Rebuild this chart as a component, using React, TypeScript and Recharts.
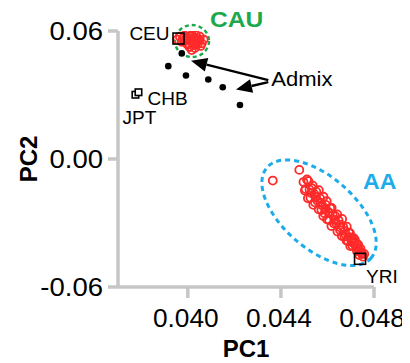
import React from 'react';
import { ScatterChart, Scatter, XAxis, YAxis, ReferenceDot, ReferenceLine } from 'recharts';

// PC1 / PC2 values
const cauPoints: [number, number][] = [
  [0.03966, 0.05732], [0.04017, 0.05812], [0.04052, 0.05732], [0.03995, 0.05421], [0.04031, 0.05341],
  [0.04017, 0.05106], [0.0406, 0.05421], [0.03974, 0.05496], [0.04038, 0.05576], [0.04002, 0.05656],
  [0.03985, 0.0578], [0.04005, 0.0585], [0.04028, 0.057], [0.04045, 0.0562], [0.0401, 0.0552],
  [0.0399, 0.056], [0.0404, 0.0548], [0.04025, 0.0545], [0.04, 0.0535], [0.0405, 0.0555],
  [0.04012, 0.0576], [0.03978, 0.0564], [0.04035, 0.058], [0.0402, 0.0562], [0.03998, 0.0572],
  [0.04043, 0.0538], [0.04008, 0.0525], [0.0403, 0.052], [0.04055, 0.053], [0.03985, 0.0553],
  [0.03955, 0.056], [0.04068, 0.056],
];

const aaPoints: [number, number][] = [
  [0.04365, -0.0101], [0.04479, -0.0051],
  [0.04497, -0.0108], [0.04503, -0.0148], [0.04512, -0.0096], [0.04506, -0.0141],
  [0.04518, -0.0104], [0.04523, -0.0144], [0.04516, -0.0184], [0.04533, -0.0137], [0.04527, -0.0182],
  [0.04537, -0.0125], [0.04544, -0.0165], [0.04539, -0.0215], [0.04552, -0.0153], [0.04546, -0.0203],
  [0.04563, -0.0146], [0.04557, -0.0196], [0.04562, -0.0236], [0.04568, -0.0184], [0.04574, -0.0239],
  [0.04583, -0.0177], [0.04577, -0.0217], [0.04582, -0.0267], [0.04593, -0.0215], [0.04588, -0.0255],
  [0.04597, -0.0198], [0.04604, -0.0248], [0.04598, -0.0283], [0.04612, -0.0231], [0.04607, -0.0286],
  [0.04618, -0.0229], [0.04623, -0.0264], [0.04617, -0.0314], [0.04633, -0.0267], [0.04628, -0.0302],
  [0.04642, -0.026], [0.04637, -0.03], [0.04643, -0.034], [0.04648, -0.0288], [0.04654, -0.0333],
  [0.04663, -0.0281], [0.04657, -0.0321], [0.04662, -0.0361], [0.04668, -0.0319], [0.04673, -0.0364],
  [0.04683, -0.0317], [0.04677, -0.0352], [0.04682, -0.0382], [0.04692, -0.0345], [0.04688, -0.0385],
  [0.04697, -0.0348], [0.04703, -0.0383], [0.04698, -0.0408], [0.04713, -0.0371], [0.04707, -0.0406],
  [0.04718, -0.0379], [0.04723, -0.0414], [0.04732, -0.0402], [0.04727, -0.0432], [0.04742, -0.042],
  [0.04737, -0.045], [0.04748, -0.0443], [0.04753, -0.0458], [0.04758, -0.0445], [0.04745, -0.0438],
  [0.04735, -0.0425], [0.04725, -0.04], [0.04715, -0.039], [0.04705, -0.037],
  [0.04728, -0.0415], [0.04738, -0.0433], [0.04712, -0.0395], [0.04694, -0.0366], [0.04675, -0.0338],
  [0.04655, -0.0308], [0.0463, -0.0285], [0.0461, -0.0255], [0.0459, -0.0236], [0.0457, -0.0205],
  [0.0455, -0.0178], [0.0453, -0.016],
];

const admixPoints: [number, number][] = [
  [0.03974, 0.04951], [0.03916, 0.04353], [0.03992, 0.03915],
  [0.04088, 0.03727], [0.0415, 0.03365], [0.04224, 0.02532],
];

// reference populations
const refNames = ['CEU', 'YRI', 'JPT', 'CHB'];
const refPC1 = [0.0396, 0.0474, 0.03775, 0.03788];
const refPC2 = [0.05647, -0.0468, 0.03012, 0.03129];

// cluster outlines (centres) and arrows
const cauCentre = { x: 0.04018, y: 0.05529 };
const aaCentre = { x: 0.04564, y: -0.02518 };
const arrowStart = [{ x: 0.043459, y: 0.036941 }, { x: 0.043459, y: 0.036 }];
const arrowTips = [{ x: 0.040137, y: 0.046023 }, { x: 0.04207, y: 0.032564 }];

const xTicks = [0.04, 0.044, 0.048];
const yTicks = [-0.06, 0, 0.06];

const toObj = (a: [number, number][]) => a.map(([x, y]) => ({ x, y }));
const refData = refNames.map((n, i) => ({ name: n, x: refPC1[i], y: refPC2[i] }));

const FONT = '"Liberation Sans", Arial, Helvetica, sans-serif';
const RED = '#ff2a2a';
const GREEN = '#1ba94c';
const BLUE = '#1cacea';

const XTick = (p: any) => (
  <g transform={`translate(${p.x - 2},${p.y})`}>
    <text transform="scale(1.05,1)" textAnchor="middle" dy="0.71em" fontSize={25} fontFamily={FONT} fill="#000">
      {Number(p.payload.value).toFixed(3)}
    </text>
  </g>
);
const YTick = (p: any) => (
  <g transform={`translate(${p.x},${p.y})`}>
    <text transform="scale(1.1,1)" textAnchor="end" dy="0.355em" fontSize={25} fontFamily={FONT} fill="#000">
      {Number(p.payload.value).toFixed(2)}
    </text>
  </g>
);

const RedCircle = (p: any) => (
  <circle cx={p.cx} cy={p.cy} r={4} fill="none" stroke={RED} strokeWidth={1.8} />
);
const Dot = (p: any) => <circle cx={p.cx} cy={p.cy} r={3.3} fill="#000" />;
const RefSquare = (p: any) => {
  const big = p.payload && (p.payload.name === 'CEU' || p.payload.name === 'YRI');
  const s = big ? 11 : 6.5;
  return (
    <rect x={p.cx - s / 2} y={p.cy - s / 2} width={s} height={s} fill={big ? 'none' : '#fff'} stroke="#000" strokeWidth={1.6} />
  );
};

const textShape = (txt: string, dx: number, dy: number, opts: any = {}) => (p: any) => (
  <g transform={`translate(${p.cx + dx},${p.cy + dy}) scale(${opts.sx || 1},1)`}>
    <text
      x={0}
      y={0}
      textAnchor={opts.anchor || 'start'}
      fontSize={opts.size || 19}
      fontWeight={opts.bold ? 700 : 400}
      fill={opts.color || '#000'}
      fontFamily={FONT}
    >
      {txt}
    </text>
  </g>
);

const ellipseShape = (rx: number, ry: number, rot: number, color: string, dash: string, w: number) => (p: any) => (
  <ellipse
    cx={p.cx}
    cy={p.cy}
    rx={rx}
    ry={ry}
    transform={`rotate(${rot} ${p.cx} ${p.cy})`}
    fill="none"
    stroke={color}
    strokeWidth={w}
    strokeDasharray={dash}
  />
);

const Arrow = (p: any) => {
  const { x1, y1, x2, y2 } = p;
  const ang = Math.atan2(y2 - y1, x2 - x1);
  const L = 16;
  const W = 7;
  const bx = x2 - L * Math.cos(ang);
  const by = y2 - L * Math.sin(ang);
  const nx = -Math.sin(ang) * W;
  const ny = Math.cos(ang) * W;
  return (
    <g>
      <line x1={x1} y1={y1} x2={bx} y2={by} stroke="#000" strokeWidth={2.4} />
      <polygon points={`${x2},${y2} ${bx + nx},${by + ny} ${bx - nx},${by - ny}`} fill="#000" />
    </g>
  );
};

const AXIS = '#c6c6c6';

export default function App() {
  return (
    <ScatterChart width={402} height={355} margin={{ top: 23, right: 36, bottom: 0, left: 0 }}>
      <XAxis
        type="number"
        dataKey="x"
        domain={[0.037, 0.048]}
        ticks={xTicks}
        allowDataOverflow
        height={76}
        stroke={AXIS}
        axisLine={{ stroke: AXIS, strokeWidth: 3.5 }}
        tickLine={{ stroke: AXIS, strokeWidth: 3.5 }}
        tickSize={11}
        tickMargin={11}
        tick={<XTick />}
        label={(lp: any) => {
          const vb = lp.viewBox || {};
          return (
            <text x={vb.x + vb.width / 2} y={vb.y + 70} textAnchor="middle" fontSize={24} fontWeight={700} fontFamily={FONT} fill="#000">
              PC1
            </text>
          );
        }}
      />
      <YAxis
        type="number"
        dataKey="y"
        domain={[-0.06, 0.06]}
        ticks={yTicks}
        allowDataOverflow
        width={110}
        stroke={AXIS}
        axisLine={{ stroke: AXIS, strokeWidth: 3.5 }}
        tickLine={{ stroke: AXIS, strokeWidth: 3.5 }}
        tickSize={10}
        tickMargin={5}
        tick={<YTick />}
        label={(lp: any) => {
          const vb = lp.viewBox || {};
          const cy = vb.y + vb.height / 2;
          return (
            <text transform={`translate(29,${cy}) rotate(-90)`} textAnchor="middle" fontSize={24} fontWeight={700} fontFamily={FONT} fill="#000">
              PC2
            </text>
          );
        }}
      />
      <ReferenceDot x={cauCentre.x} y={cauCentre.y} r={0} shape={ellipseShape(17, 16, 0, GREEN, '4 3', 2.4)} />
      <ReferenceDot x={aaCentre.x} y={aaCentre.y} r={0} shape={ellipseShape(69, 36, 41, BLUE, '5 4', 3)} />
      <Scatter data={toObj(cauPoints)} shape={<RedCircle />} isAnimationActive={false} />
      <Scatter data={toObj(aaPoints)} shape={<RedCircle />} isAnimationActive={false} />
      <Scatter data={toObj(admixPoints)} shape={<Dot />} isAnimationActive={false} />
      <Scatter data={refData} shape={<RefSquare />} isAnimationActive={false} />
      <ReferenceLine segment={[arrowStart[0], arrowTips[0]]} shape={Arrow} />
      <ReferenceLine segment={[arrowStart[1], arrowTips[1]]} shape={Arrow} />
      <ReferenceDot x={refPC1[0]} y={refPC2[0]} r={0} shape={textShape('CEU', -9, 1, { anchor: 'end' })} />
      <ReferenceDot x={refPC1[3]} y={refPC2[3]} r={0} shape={textShape('CHB', 9, 13)} />
      <ReferenceDot x={refPC1[2]} y={refPC2[2]} r={0} shape={textShape('JPT', -13, 29)} />
      <ReferenceDot x={refPC1[1]} y={refPC2[1]} r={0} shape={textShape('YRI', 6, 24)} />
      <ReferenceDot x={arrowStart[0].x} y={arrowStart[0].y} r={0} shape={textShape('Admix', 3, 6, { size: 21, sx: 1.05 })} />
      <ReferenceDot x={cauCentre.x} y={cauCentre.y} r={0} shape={textShape('CAU', 18, -14, { size: 22, bold: true, color: GREEN, sx: 1.12 })} />
      <ReferenceDot x={aaCentre.x} y={aaCentre.y} r={0} shape={textShape('AA', 44, -24, { size: 22, bold: true, color: BLUE, sx: 1.05 })} />
    </ScatterChart>
  );
}
